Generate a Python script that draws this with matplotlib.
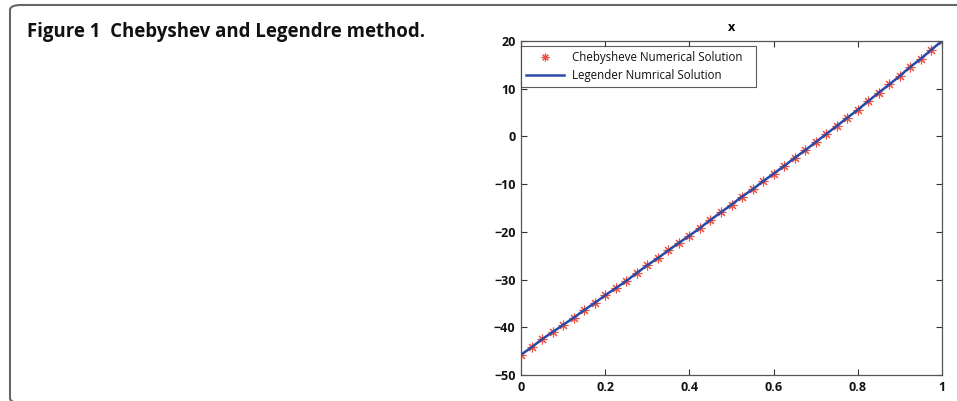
import matplotlib
matplotlib.use("Agg")
import matplotlib.pyplot as plt
from matplotlib.patches import FancyBboxPatch
import numpy as np

x_vals = [0.0, 0.025, 0.05, 0.075, 0.1, 0.125, 0.15, 0.175, 0.2, 0.225, 0.25,
          0.275, 0.3, 0.325, 0.35, 0.375, 0.4, 0.425, 0.45, 0.475, 0.5,
          0.525, 0.55, 0.575, 0.6, 0.625, 0.65, 0.675, 0.7, 0.725, 0.75,
          0.775, 0.8, 0.825, 0.85, 0.875, 0.9, 0.925, 0.95, 0.975, 1.0]
cheb_vals = [-45.75, -44.2, -42.5, -41.0, -39.5, -38.0, -36.4, -34.9, -33.3, -31.8, -30.3,
             -28.6, -27.0, -25.5, -23.9, -22.3, -20.8, -19.2, -17.5, -15.9, -14.3,
             -12.6, -11.1, -9.4, -7.8, -6.2, -4.5, -2.9, -1.2, 0.5, 2.2,
             3.9, 5.6, 7.4, 9.2, 10.9, 12.7, 14.6, 16.3, 18.2, 20.0]
leg_vals = list(cheb_vals)

x_ticks = [0, 0.2, 0.4, 0.6, 0.8, 1]
x_ticklabels = ["0", "0.2", "0.4", "0.6", "0.8", "1"]
y_ticks = [-50, -40, -30, -20, -10, 0, 10, 20]
y_ticklabels = ["\u221250", "\u221240", "\u221230", "\u221220", "\u221210", "0", "10", "20"]

plt.rcParams['font.family'] = ['Open Sans', 'DejaVu Sans']

fig = plt.figure(figsize=(9.57, 4.01), dpi=100)

# frame of the figure panel
frame = FancyBboxPatch((10/957, -2/401), 1.2, 1.0 - 3/401,
                       boxstyle="round,pad=0,rounding_size=0.012",
                       transform=fig.transFigure, fill=False,
                       edgecolor="#666666", linewidth=1.5, clip_on=False)
fig.patches.append(frame)

fig.text(27/957, 1 - 37/401, "Figure 1  Chebyshev and Legendre method.",
         fontsize=13.4, fontweight="bold", ha="left", va="baseline", color="#111111")

ax = fig.add_axes([521/957, 1 - 375/401, (942 - 521)/957, (375 - 41)/401])
mk, = ax.plot(x_vals, cheb_vals, linestyle="none", marker=(8, 2, 0), color="#ee5040",
              markersize=7, markeredgewidth=0.8, label="Chebysheve Numerical Solution")
mk.set_snap(False)
ln, = ax.plot(x_vals, leg_vals, color="#2a4aa8", linewidth=1.8,
              label="Legender Numrical Solution")
ln.set_snap(False)

ax.set_xlim(0, 1)
ax.set_ylim(-50, 20)
ax.set_xticks(x_ticks)
ax.set_xticklabels(x_ticklabels)
ax.set_yticks(y_ticks)
ax.set_yticklabels(y_ticklabels)
ax.tick_params(direction="in", top=True, right=True, length=4, width=0.8,
               labelsize=9, colors="#333333", labelcolor="#111111", pad=4)
for lab in ax.get_xticklabels() + ax.get_yticklabels():
    lab.set_fontweight("bold")
for s in ax.spines.values():
    s.set_color("#555555")
    s.set_linewidth(0.9)
ax.set_title("x", fontsize=9, fontweight="bold", pad=7)

leg = ax.legend(loc="upper left", bbox_to_anchor=(0.0, 0.985), fontsize=8.3,
                frameon=True, fancybox=False, borderpad=0.45, handlelength=3.3,
                handletextpad=0.65, labelspacing=0.4, borderaxespad=0,
                markerscale=0.8)
leg.get_frame().set_edgecolor("#333333")
leg.get_frame().set_linewidth(0.8)
for t in leg.get_texts():
    t.set_color("#111111")
    t.set_text(t.get_text() + "   ")

fig.savefig("out.png", dpi=100)
